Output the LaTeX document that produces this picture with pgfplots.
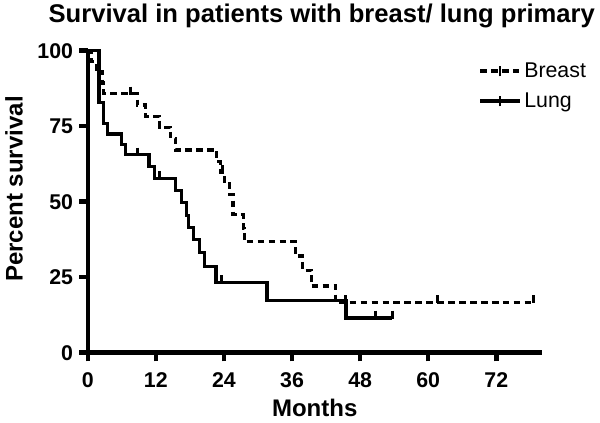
\documentclass[border=0pt]{standalone}
\usepackage{pgfplots}
\pgfplotsset{compat=1.18}
\usepackage{fontspec}
\setmainfont{Liberation Sans}
\begin{document}
\begin{tikzpicture}
\path[use as bounding box] (-65.8pt,-52.7pt) rectangle (384.2pt,264.5pt);
\begin{axis}[
  at={(0,0)}, anchor=south west,
  scale only axis, width=340.5pt, height=226.5pt,
  xmin=0, xmax=80, ymin=0, ymax=100,
  clip=false,
  axis lines*=left,
  axis line style={line width=3.3pt},
  xtick={0,12,24,36,48,60,72}, ytick={0,25,50,75,100},
  tick align=outside, major tick length=6.5pt,
  tick style={line width=3.3pt, black},
  ticklabel style={font=\fontsize{16}{18}\selectfont\bfseries},
  xticklabel style={yshift=-5pt},
  yticklabel style={xshift=-1pt},
  /pgf/number format/assume math mode=true,
  xlabel={Months}, ylabel={Percent survival},
  label style={font=\fontsize{18}{21}\selectfont\bfseries},
  xlabel style={at={(axis description cs:0.5,0)}, anchor=base, yshift=-48.2pt},
  ylabel style={at={(axis description cs:-0.1624,0.542)}, anchor=center},
  legend style={draw=none, fill=none, at={(axis description cs:0.86,0.97)}, anchor=north west,
    font=\fontsize{16}{18}\selectfont, row sep=6pt, inner sep=0pt, cells={anchor=west}},
  legend image code/.code={\draw[#1] (0pt,0pt) -- (30pt,0pt); \draw[solid, line width=2.2pt] (15pt,-4pt) -- (15pt,4pt);},
]
\addplot[const plot, line width=2.4pt, dash pattern=on 5pt off 3.2pt] coordinates {
(0,100) (0.6,96.4) (1.5,92.9) (2.6,89.3) (2.8,85.7) (8.7,82.0) (10.2,78.3) (12.7,74.6) (14.6,70.9) (15.5,67.1)
(22.7,63.3) (23.4,59.6) (24.1,56.0) (25.0,52.3) (25.6,45.7) (27.4,41.2) (27.6,36.8) (36.6,32.0) (37.9,27.3)
(39.4,22.1) (43.7,16.6) (78.6,16.6)};
\addlegendentry{Breast}
\addplot[const plot, line width=2.4pt] coordinates {
(0,100) (2.0,82.8) (2.8,75.9) (3.5,72.4) (5.9,69.0) (6.7,65.5) (10.8,61.7) (11.7,57.8) (15.5,53.6) (16.5,49.6)
(17.4,45.5) (17.8,41.5) (18.6,37.5) (19.7,33.2) (20.6,28.6) (22.6,23.2) (31.6,17.3) (45.5,11.5) (53.7,11.5)};
\addlegendentry{Lung}
\addplot[only marks, mark=|, mark size=3pt, forget plot, mark options={line width=2.2pt, yshift=2.5pt, solid}] coordinates {
(7.6,85.7) (23.7,59.6) (45.5,16.6) (61.6,16.6) (78.6,16.6)};
\addplot[only marks, mark=|, mark size=3pt, forget plot, mark options={line width=2.2pt, yshift=2.5pt, solid}] coordinates {
(8.7,65.5) (12.7,57.8) (23.6,23.2) (50.7,11.5) (53.7,11.5)};
\end{axis}
\node[anchor=base, font=\fontsize{19.2}{22}\selectfont\bfseries] at (175.5pt,247.8pt) {Survival in patients with breast/ lung primary};
\end{tikzpicture}
\end{document}
